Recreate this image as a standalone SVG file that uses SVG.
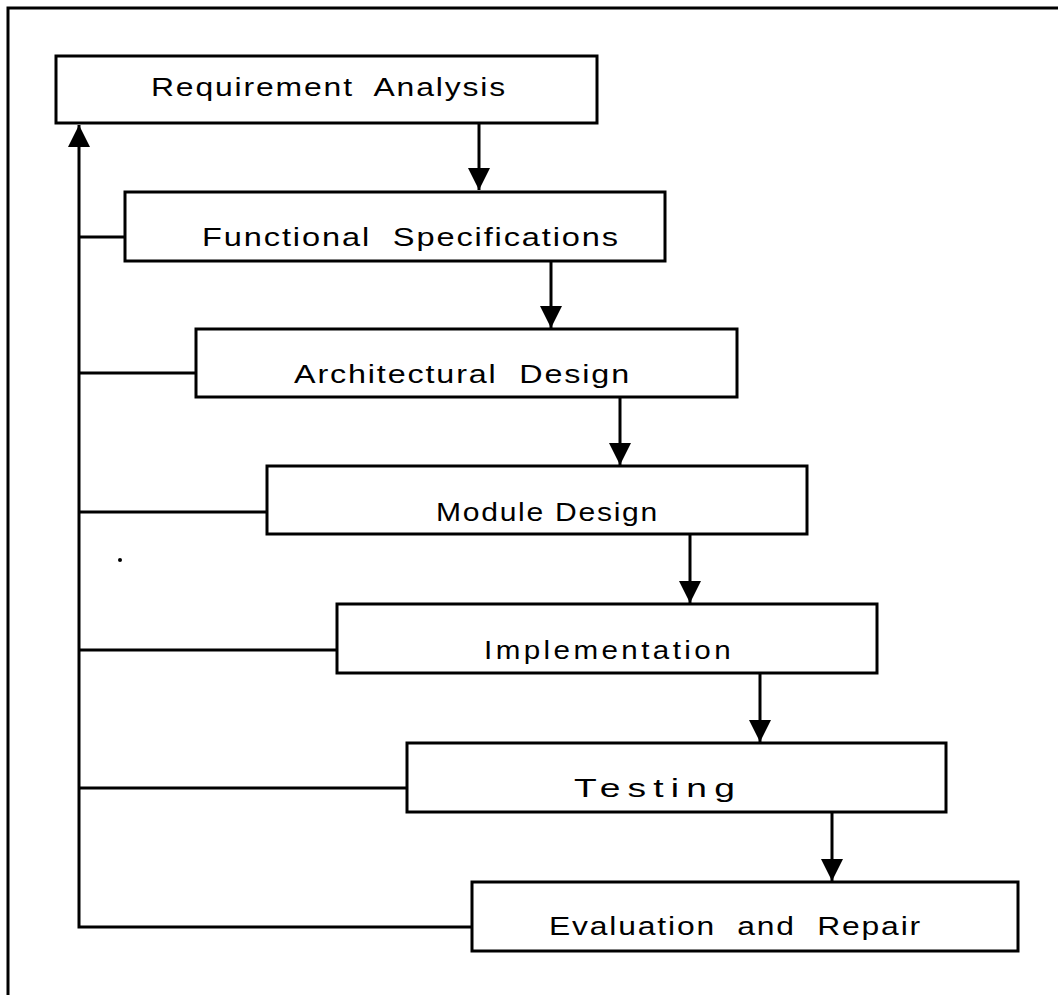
<svg xmlns="http://www.w3.org/2000/svg" width="1058" height="995" viewBox="0 0 1058 995">
<style>
.box{fill:#fff;stroke:#000;stroke-width:3}
.lbl{font-family:"Liberation Sans",Arial,sans-serif;font-size:26px;letter-spacing:1.5px;fill:#000;white-space:pre}
.ln{fill:none;stroke:#000;stroke-width:3}
</style>
<defs>
<marker id="ah" markerUnits="userSpaceOnUse" markerWidth="24" markerHeight="26" refX="22" refY="11" orient="auto" viewBox="0 0 24 22">
<path d="M0,0 L22,11 L0,22 Z" fill="#000"/>
</marker>
</defs>
<rect width="1058" height="995" fill="#fff"/>
<path class="ln" d="M8,995 V8 H1058"/>
<g id="connectors">
<line class="ln" x1="479" y1="123" x2="479" y2="190" marker-end="url(#ah)"/>
<line class="ln" x1="551" y1="261" x2="551" y2="328" marker-end="url(#ah)"/>
<line class="ln" x1="620" y1="397" x2="620" y2="465" marker-end="url(#ah)"/>
<line class="ln" x1="690" y1="534" x2="690" y2="603" marker-end="url(#ah)"/>
<line class="ln" x1="760" y1="673" x2="760" y2="742" marker-end="url(#ah)"/>
<line class="ln" x1="832" y1="812" x2="832" y2="881" marker-end="url(#ah)"/>
<path class="ln" d="M472,927 H79 V125" marker-end="url(#ah)"/>
<line class="ln" x1="79" y1="237" x2="125" y2="237"/>
<line class="ln" x1="79" y1="373" x2="196" y2="373"/>
<line class="ln" x1="79" y1="512" x2="267" y2="512"/>
<line class="ln" x1="79" y1="650" x2="337" y2="650"/>
<line class="ln" x1="79" y1="788" x2="407" y2="788"/>
</g>
<g id="n1"><rect class="box" x="56" y="56" width="541" height="67"/><text class="lbl" x="151" y="96" textLength="356" lengthAdjust="spacingAndGlyphs" xml:space="preserve">Requirement  Analysis</text></g>
<g id="n2"><rect class="box" x="125" y="192" width="540" height="69"/><text class="lbl" x="202" y="246" textLength="418" lengthAdjust="spacingAndGlyphs" xml:space="preserve">Functional  Specifications</text></g>
<g id="n3"><rect class="box" x="196" y="329" width="541" height="68"/><text class="lbl" x="294" y="383" textLength="337" lengthAdjust="spacingAndGlyphs" xml:space="preserve">Architectural  Design</text></g>
<g id="n4"><rect class="box" x="267" y="466" width="540" height="68"/><text class="lbl" x="436" y="521" textLength="223" lengthAdjust="spacingAndGlyphs">Module Design</text></g>
<g id="n5"><rect class="box" x="337" y="604" width="540" height="69"/><text class="lbl" x="484" y="659" textLength="250" lengthAdjust="spacingAndGlyphs" style="letter-spacing:3px">Implementation</text></g>
<g id="n6"><rect class="box" x="407" y="743" width="539" height="69"/><text class="lbl" x="574" y="797" textLength="168" lengthAdjust="spacingAndGlyphs" style="letter-spacing:5px">Testing</text></g>
<g id="n7"><rect class="box" x="472" y="882" width="546" height="69"/><text class="lbl" x="549" y="935" textLength="373" lengthAdjust="spacingAndGlyphs" xml:space="preserve">Evaluation  and  Repair</text></g>
<circle cx="120" cy="560" r="2" fill="#000"/>
</svg>
